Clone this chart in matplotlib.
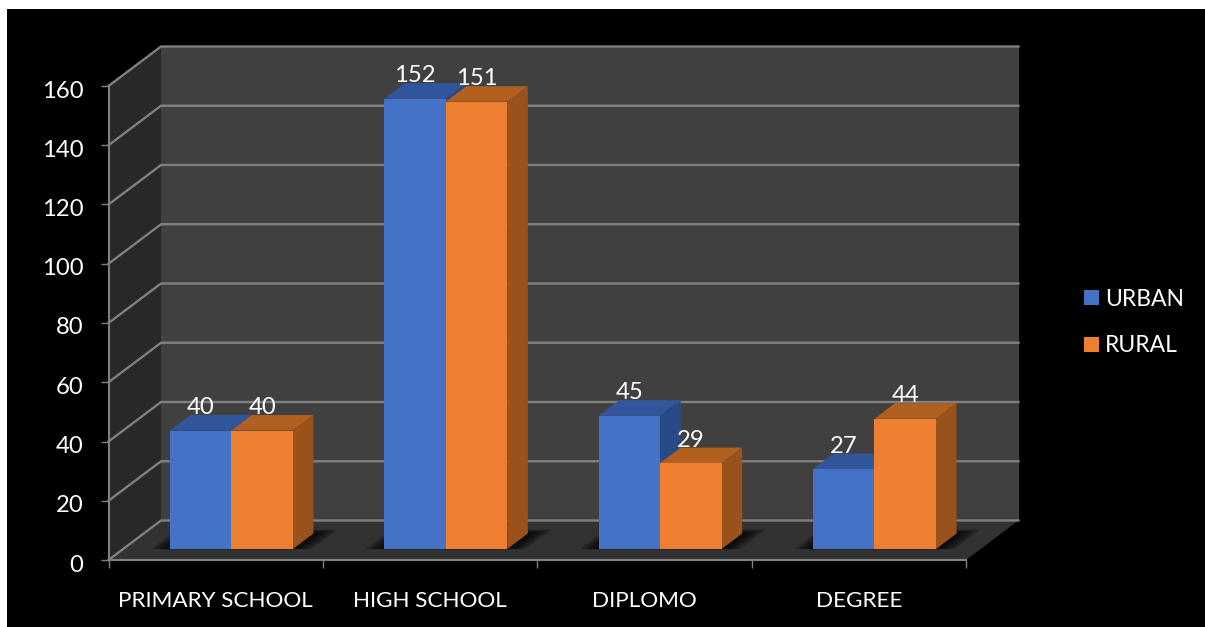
import matplotlib
matplotlib.use("Agg")
import matplotlib.pyplot as plt
from matplotlib.patches import Rectangle, Polygon
from matplotlib.transforms import ScaledTranslation

categories = ["PRIMARY SCHOOL", "HIGH SCHOOL", "DIPLOMO", "DEGREE"]
urban = [40, 152, 45, 27]
rural = [40, 151, 29, 44]
series_names = ["URBAN", "RURAL"]
y_ticks = [0, 20, 40, 60, 80, 100, 120, 140, 160]

W, H = 1205, 627
plt.rcParams["font.family"] = ["Lato", "DejaVu Sans"]
FS = 16.2
FS_NUM = 17.2
TXT = "#ffffff"
GRID = "#808080"

fig = plt.figure(figsize=(W / 100, H / 100), dpi=100, facecolor="white")
fig.patches.append(Rectangle((7 / W, 0), 1 - 7 / W, 1 - 9 / H, transform=fig.transFigure,
                             facecolor="black", edgecolor="none", zorder=-10))

ax = fig.add_axes([108.5 / W, (H - 560) / H, (966 - 108.5) / W, 474 / H])
ax.patch.set_alpha(0)
ax.set_xlim(0, len(categories))
ax.set_ylim(0, 160)

# oblique projection, in data units: depth 0 = front plane, 1 = back wall
DX = 52.5 / ((966 - 108.5) / 4)
DY = 39.5 / (474 / 160)
def pr(x, y, d):
    return (x + d * DX, y + d * DY)

def poly(pts, color, z, **kw):
    p = Polygon(pts, closed=True, facecolor=color, edgecolor="none", zorder=z, clip_on=False, **kw)
    ax.add_patch(p)
    return p

n = len(categories)
ymax = y_ticks[-1]
poly([pr(0, 0, 1), pr(n, 0, 1), pr(n, ymax, 1), pr(0, ymax, 1)], "#404040", 1)
poly([pr(0, 0, 0), pr(0, 0, 1), pr(0, ymax, 1), pr(0, ymax, 0)], "#282828", 1)
floor = poly([pr(0, 0, 0), pr(n, 0, 0), pr(n, 0, 1), pr(0, 0, 1)], "#323232", 1)

for v in y_ticks:
    xs = [pr(0, v, 0)[0], pr(0, v, 1)[0], pr(n, v, 1)[0]]
    ys = [pr(0, v, 0)[1], pr(0, v, 1)[1], pr(n, v, 1)[1]]
    ax.plot(xs, ys, color=GRID, lw=1.7, zorder=2, clip_on=False, solid_joinstyle="miter")

D0, D1 = 0.278, 0.67
BW = 61.5 / ((966 - 108.5) / 4)
SHIFT = 0.005
COLORS = [("#4472C4", "#31569B", "#284A86"), ("#EE7E30", "#B2601F", "#99521C")]

# soft contact shadow on the floor
for i in range(n):
    left = i + 0.5 + SHIFT - BW
    right = i + 0.5 + SHIFT + BW
    for k in range(10):
        e = 0.01 * (10 - k)
        q = poly([pr(left - e * 0.9, 0, D0), pr(right + e * 0.9, 0, D0),
                  pr(right + e * 0.9, 0, D1 + e * 1.0), pr(left - e * 0.9, 0, D1 + e * 1.0)],
                 "black", 3, alpha=0.13)
        q.set_clip_path(floor)

def bar3d(x0, v, cols, z):
    x1 = x0 + BW
    poly([pr(x0, 0, D0), pr(x1, 0, D0), pr(x1, v, D0), pr(x0, v, D0)], cols[0], z + 0.2)
    poly([pr(x0, v, D0), pr(x1, v, D0), pr(x1, v, D1), pr(x0, v, D1)], cols[1], z)
    poly([pr(x1, 0, D0), pr(x1, 0, D1), pr(x1, v, D1), pr(x1, v, D0)], cols[2], z)

for i in range(n):
    xa = i + 0.5 + SHIFT - BW
    xb = i + 0.5 + SHIFT
    bar3d(xa, urban[i], COLORS[0], 4)
    bar3d(xb, rural[i], COLORS[1], 5)
    for x0, v in ((xa, urban[i]), (xb, rural[i])):
        px, py = pr(x0 + BW / 2, v, D0)
        ax.annotate(str(v), (px, py), xytext=(0, 16.4), textcoords="offset points",
                    ha="center", va="center", color=TXT, fontsize=FS_NUM, zorder=8, annotation_clip=False)

# axes
for s in ("top", "right"):
    ax.spines[s].set_visible(False)
for s in ("left", "bottom"):
    ax.spines[s].set_color(GRID)
    ax.spines[s].set_linewidth(1.5)
    ax.spines[s].set_zorder(6)

ax.set_yticks(y_ticks)
ax.set_yticklabels([str(v) for v in y_ticks])
ax.tick_params(axis="y", length=6, width=1, color=GRID, labelcolor=TXT, labelsize=FS_NUM, pad=12)
down = ScaledTranslation(0, -3 / 100, fig.dpi_scale_trans)
for lab in ax.get_yticklabels():
    lab.set_transform(lab.get_transform() + down)
ax.set_xticks(range(n + 1))
ax.set_xticklabels([""] * (n + 1))
ax.tick_params(axis="x", which="major", length=6, width=1, color=GRID)
ax.set_xticks([i + 0.5 for i in range(n)], minor=True)
ax.set_xticklabels(categories, minor=True)
ax.tick_params(axis="x", which="minor", length=0, labelcolor=TXT, labelsize=FS, pad=22)

handles = [Rectangle((0, 0), 1, 1, facecolor=COLORS[j][0], edgecolor="none") for j in range(2)]
fs_px = FS * 100 / 72
leg = fig.legend(handles, series_names, loc="center left",
                 bbox_to_anchor=(1084 / W, (H - 322.5) / H), frameon=False, fontsize=FS + 0.3,
                 labelcolor=TXT, handlelength=15 / fs_px, handleheight=15 / fs_px,
                 handletextpad=5.5 / fs_px, labelspacing=1.13, borderpad=0, borderaxespad=0)

fig.savefig("out.png", dpi=100, facecolor=fig.get_facecolor())
